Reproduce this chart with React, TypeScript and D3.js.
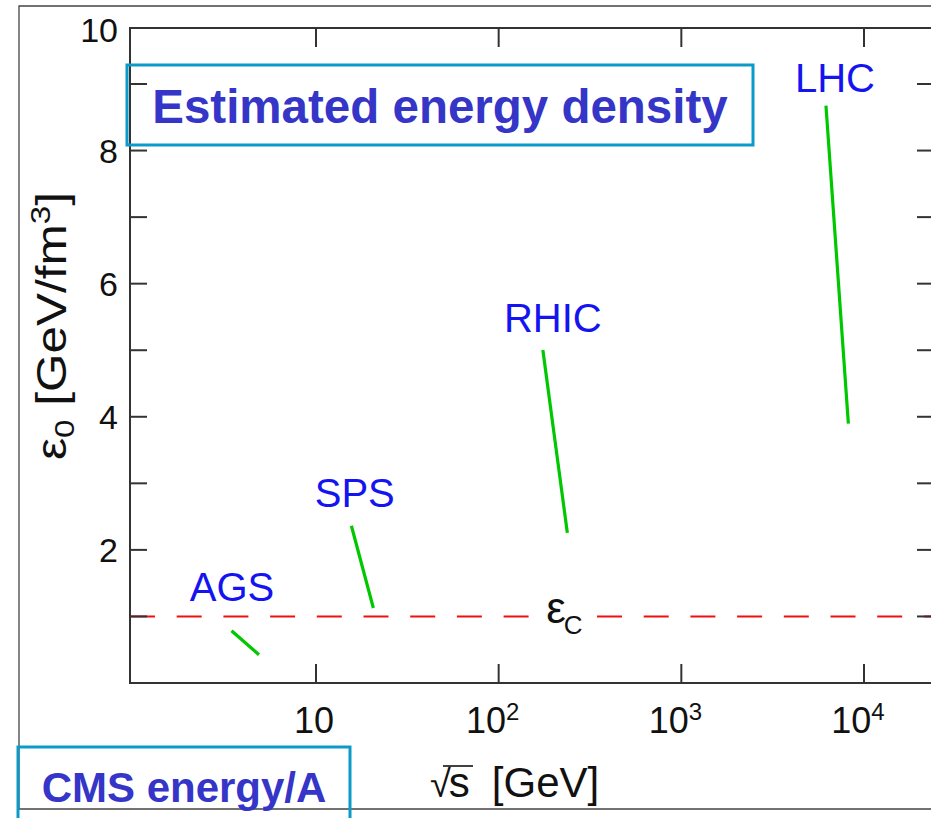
import React from 'react';
import * as d3 from 'd3';

// ---- data ----
const accelerators = ['AGS', 'SPS', 'RHIC', 'LHC'];
const sqrtSStart = [3.5, 15.7, 175, 6200];
const sqrtSEnd = [4.8, 20.5, 237, 8200];
const epsStart = [0.77, 2.34, 4.98, 8.65];
const epsEnd = [0.44, 1.15, 2.28, 3.92];
const labelSqrtS = [3.47, 16.3, 198, 6930];
const labelEps = [1.23, 2.64, 5.27, 8.88];
const epsCritical = 1.0;
const epsCriticalLabelSqrtS = 182;
const xTicks = [10, 100, 1000, 10000];
const xTickExp = ['', '2', '3', '4'];
const yTicks = [1, 2, 3, 4, 5, 6, 7, 8, 9];
const yTickLabels = [2, 4, 6, 8, 10];

const W = 931;
const H = 818;
const FONT = '"Liberation Sans", Arial, Helvetica, sans-serif';

export default function App() {
  const left = 130, top = 28, bottom = 683, right = 934;
  const x = d3.scaleLog().domain([10, 1e4]).range([316, 864]);
  const y = d3.scaleLinear().domain([0, 9, 10]).range([bottom, 84, top]);
  const line = d3.line<[number, number]>().x(d => x(d[0])).y(d => y(d[1]));

  const axisColor = '#333';
  const yTickLen = 17;
  const xTickLen = 19;
  const boxStroke = '#0a9bcb';
  const boxText = '#3535c8';
  const labelBlue = '#1414f0';

  const ecX = x(epsCriticalLabelSqrtS);
  const ecY = y(epsCritical);

  return (
    <svg width={W} height={H} style={{ position: 'absolute', left: 0, top: 0, background: '#fff' }}
      fontFamily={FONT}>
      <rect x={0} y={0} width={W} height={H} fill="#fff" />
      {/* outer slide frame */}
      <path d={`M${W + 2},6 H19 V809 H${W + 2}`} fill="none" stroke="#444" strokeWidth={1.3} />

      {/* critical energy density */}
      <line x1={left} x2={right} y1={y(epsCritical)} y2={y(epsCritical)} stroke="#f01010" strokeWidth={2}
        strokeDasharray="25 21.7" />
      <rect x={ecX - 3} y={ecY - 12} width={46} height={22} fill="#fff" />
      <text x={ecX} y={ecY + 7} fontSize={44} fill="#111">ε<tspan fontSize={26} dx={-2} dy={11}>C</tspan></text>

      {/* plot frame */}
      <rect x={left} y={top} width={right - left} height={bottom - top} fill="none" stroke={axisColor} strokeWidth={2} />
      {yTicks.map(t => (
        <g key={'yt' + t}>
          <line x1={left} x2={left + yTickLen} y1={y(t)} y2={y(t)} stroke={axisColor} strokeWidth={2} />
          <line x1={right - yTickLen} x2={right} y1={y(t)} y2={y(t)} stroke={axisColor} strokeWidth={2} />
        </g>
      ))}
      {yTickLabels.map(t => (
        <text key={'yl' + t} x={118} y={y(t) + (t === 10 ? 2 : 0) + 12} fontSize={34} textAnchor="end" fill="#111">{t}</text>
      ))}
      {xTicks.map((t, i) => (
        <g key={'xt' + t}>
          <line x1={x(t)} x2={x(t)} y1={bottom} y2={bottom - xTickLen} stroke={axisColor} strokeWidth={2} />
          <line x1={x(t)} x2={x(t)} y1={top} y2={top + xTickLen} stroke={axisColor} strokeWidth={2} />
          <text x={x(t) + (xTickExp[i] ? -6 : -2)} y={733} fontSize={36} textAnchor="middle" fill="#111">
            10{xTickExp[i] ? <tspan fontSize={24} dy={-13}>{xTickExp[i]}</tspan> : null}
          </text>
        </g>
      ))}

      {/* accelerator ranges */}
      {accelerators.map((a, i) => (
        <g key={a}>
          <path d={line([[sqrtSStart[i], epsStart[i]], [sqrtSEnd[i], epsEnd[i]]]) || ''} fill="none"
            stroke="#00c800" strokeWidth={3.2} strokeLinecap="square" />
          <text x={x(labelSqrtS[i])} y={y(labelEps[i])} fontSize={40} textAnchor="middle" fill={labelBlue}>{a}</text>
        </g>
      ))}

      {/* axis titles */}
      <text transform="translate(66,326) rotate(-90)" fontSize={42} textAnchor="middle" fill="#111"
        textLength={268} lengthAdjust="spacingAndGlyphs">
        ε<tspan fontSize={28} dy={8}>0</tspan><tspan dy={-8}>{'\u00a0[GeV/fm'}</tspan><tspan fontSize={28} dy={-16}>3</tspan><tspan dy={16}>]</tspan>
      </text>
      <text x={430} y={797} fontSize={42} fill="#111">
        <tspan fontSize={38}>√</tspan><tspan dx={-2}>s</tspan><tspan dx={22}>[GeV]</tspan>
      </text>
      <line x1={443} x2={473} y1={766} y2={766} stroke="#111" strokeWidth={1.6} />

      {/* annotation boxes */}
      <rect x={127} y={65} width={626} height={80} fill="none" stroke={boxStroke} strokeWidth={3} />
      <text x={440} y={123} fontSize={47.5} fontWeight="bold" textAnchor="middle" fill={boxText}>Estimated energy density</text>
      <rect x={18} y={747} width={332} height={100} fill="none" stroke={boxStroke} strokeWidth={3} />
      <text x={184} y={802} fontSize={42} fontWeight="bold" textAnchor="middle" fill={boxText}>CMS energy/A</text>
    </svg>
  );
}
